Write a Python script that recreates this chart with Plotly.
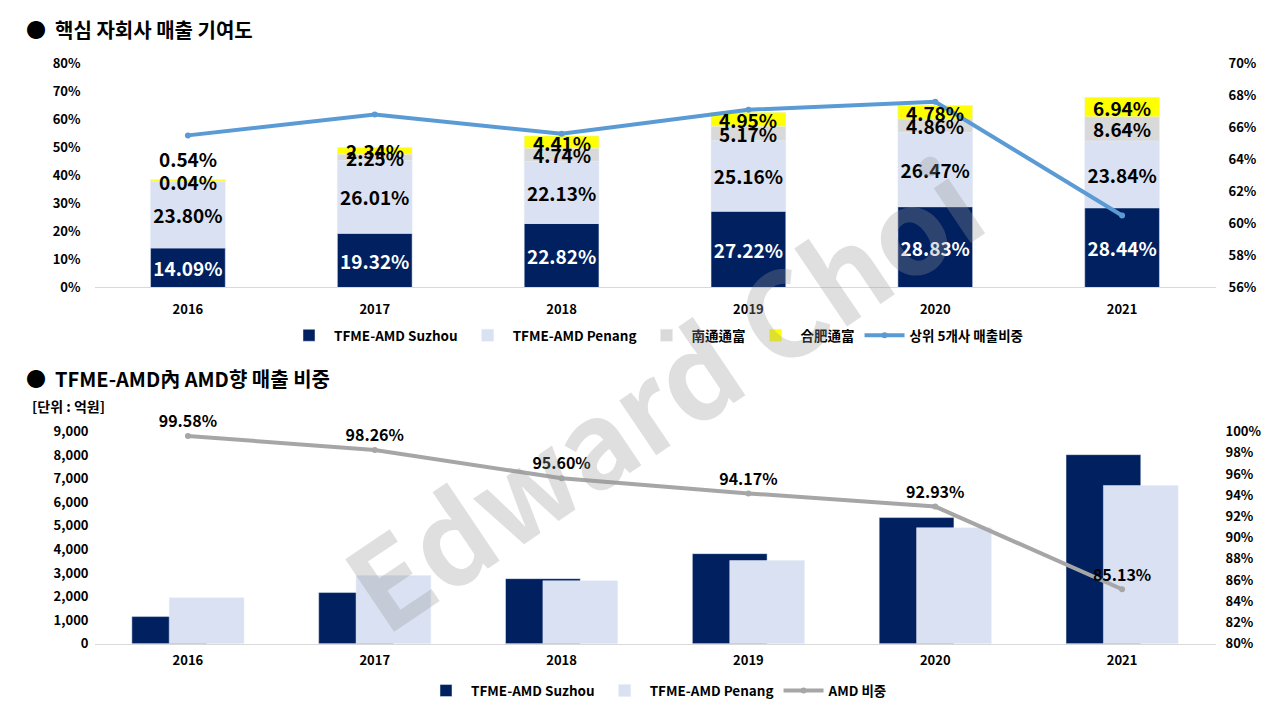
import plotly.graph_objects as go
from plotly.subplots import make_subplots

years = ['2016', '2017', '2018', '2019', '2020', '2021']

# 위: 핵심 자회사 매출 기여도 (%)
suzhou_pct = [14.09, 19.32, 22.82, 27.22, 28.83, 28.44]
penang_pct = [23.80, 26.01, 22.13, 25.16, 26.47, 23.84]
nantong_pct = [0.04, 2.25, 4.74, 5.17, 4.86, 8.64]
hefei_pct = [0.54, 2.34, 4.41, 4.95, 4.78, 6.94]
top5_share = [65.5, 66.8, 65.6, 67.1, 67.6, 60.5]

# 아래: TFME-AMD 매출 (억원) 과 AMD 비중
suzhou_sales = [1150, 2170, 2760, 3820, 5350, 8020]
penang_sales = [1950, 2890, 2670, 3530, 4920, 6710]
amd_share = [99.58, 98.26, 95.60, 94.17, 92.93, 85.13]

NAVY = '#002060'
LIGHT = '#D9E1F2'
GRAY = '#D9D9D9'
YELLOW = '#FFFF00'
BLUE = '#5B9BD5'
LGRAY = '#A6A6A6'
FONT = 'Noto Sans CJK KR'


# 화면 픽셀 -> paper 좌표 (렌더링 오프셋 보정)
def px(x):
    return (x - 8) / 1280


def py(y):
    return 1 - ((y - 17.7) / 0.973) / 720


fig = make_subplots(rows=2, cols=1, specs=[[{'secondary_y': True}], [{'secondary_y': True}]])

base_penang = suzhou_pct
base_nantong = [a + b for a, b in zip(suzhou_pct, penang_pct)]
base_hefei = [a + b for a, b in zip(base_nantong, nantong_pct)]

lbl = dict(family=FONT, size=19, weight='bold')
fig.add_trace(go.Bar(x=years, y=suzhou_pct, name='TFME-AMD Suzhou', marker_color=NAVY,
                     width=0.4, text=[f'{v:.2f}%' for v in suzhou_pct], textposition='inside',
                     insidetextanchor='middle', constraintext='none', textangle=0,
                     textfont=dict(lbl, color='white'), legend='legend'), row=1, col=1)
fig.add_trace(go.Bar(x=years, y=penang_pct, base=base_penang, name='TFME-AMD Penang',
                     marker_color=LIGHT, width=0.4, text=[f'{v:.2f}%' for v in penang_pct],
                     textposition='inside', insidetextanchor='middle', constraintext='none',
                     textangle=0, textfont=dict(lbl, color='black'), legend='legend'),
              row=1, col=1)
fig.add_trace(go.Bar(x=years, y=nantong_pct, base=base_nantong, name='南通通富',
                     marker_color=GRAY, width=0.4, legend='legend'), row=1, col=1)
fig.add_trace(go.Bar(x=years, y=hefei_pct, base=base_hefei, name='合肥通富',
                     marker_color=YELLOW, width=0.4, legend='legend'), row=1, col=1)
fig.add_trace(go.Scatter(x=years, y=top5_share, name='상위 5개사 매출비중', mode='lines+markers',
                         line=dict(color=BLUE, width=4), marker=dict(size=6, color=BLUE),
                         legend='legend'), row=1, col=1, secondary_y=True)

# small segment labels (x as category index)
for i, (b, v) in enumerate(zip(base_nantong, nantong_pct)):
    fig.add_annotation(x=i, y=b + v / 2, xref='x', yref='y', text=f'{v:.2f}%', showarrow=False,
                       font=dict(lbl, color='black'))
for i, (b, v) in enumerate(zip(base_hefei, hefei_pct)):
    fig.add_annotation(x=i, y=b + v / 2, xref='x', yref='y', text=f'{v:.2f}%', showarrow=False,
                       yshift=22 if v < 1 else 0, font=dict(lbl, color='black'))

fig.add_trace(go.Bar(x=years, y=suzhou_sales, name='TFME-AMD Suzhou', marker_color=NAVY,
                     width=0.4, offset=-0.3, legend='legend2'), row=2, col=1)
fig.add_trace(go.Bar(x=years, y=penang_sales, name='TFME-AMD Penang', marker_color=LIGHT,
                     width=0.4, offset=-0.1, legend='legend2'), row=2, col=1)
fig.add_trace(go.Scatter(x=years, y=amd_share, name='AMD 비중', mode='lines+markers+text',
                         line=dict(color=LGRAY, width=4), marker=dict(size=6, color=LGRAY),
                         text=[f'{v:.2f}%' for v in amd_share], textposition='top center',
                         cliponaxis=False,
                         textfont=dict(family=FONT, size=16, weight='bold', color='black'),
                         legend='legend2'), row=2, col=1, secondary_y=True)

tick = dict(family=FONT, size=13, weight='bold', color='black')
xdom = [px(94.5), px(1215.5)]
fig.update_layout(
    width=1280, height=720, barmode='overlay', plot_bgcolor='white', paper_bgcolor='white',
    margin=dict(l=0, r=0, t=0, b=0), font=dict(family=FONT, color='black'),
    xaxis=dict(domain=xdom, type='category', range=[-0.5, 5.5], showline=True, linecolor=GRAY,
               tickfont=tick, ticks='', ticklabelstandoff=10),
    xaxis2=dict(domain=xdom, type='category', range=[-0.5, 5.5], showline=True, linecolor=GRAY,
                tickfont=tick, ticks='', ticklabelstandoff=5),
    yaxis=dict(domain=[py(287), py(63)], range=[0, 80], dtick=10, ticksuffix='%',
               showgrid=False, zeroline=False, tickfont=tick, ticklabelstandoff=13),
    yaxis2=dict(range=[56, 70], dtick=2, ticksuffix='%', showgrid=False, zeroline=False,
                tickfont=tick, ticklabelstandoff=12),
    yaxis3=dict(domain=[py(643), py(431)], range=[0, 9000], dtick=1000,
                tickformat=',', showgrid=False, zeroline=False, tickfont=tick,
                ticklabelstandoff=5),
    yaxis4=dict(range=[80, 100], dtick=2, ticksuffix='%', showgrid=False, zeroline=False,
                tickfont=tick, ticklabelstandoff=9),
    legend=dict(orientation='h', x=px(656), xanchor='center', y=py(335), yanchor='middle',
                font=dict(family=FONT, size=13.5, weight='bold'), bgcolor='rgba(0,0,0,0)',
                itemwidth=40),
    legend2=dict(orientation='h', x=px(657), xanchor='center', y=py(690), yanchor='middle',
                 font=dict(family=FONT, size=13.5, weight='bold'), bgcolor='rgba(0,0,0,0)',
                 itemwidth=40),
)

fig.add_annotation(x=px(24), y=py(29), xref='paper', yref='paper', xanchor='left',
                   yanchor='middle', showarrow=False, text='●  핵심 자회사 매출 기여도',
                   font=dict(family=FONT, size=20, weight='bold'))
fig.add_annotation(x=px(24), y=py(378), xref='paper', yref='paper', xanchor='left',
                   yanchor='middle', showarrow=False, text='●  TFME-AMD內 AMD향 매출 비중',
                   font=dict(family=FONT, size=20, weight='bold'))
fig.add_annotation(x=px(30), y=py(405), xref='paper', yref='paper', xanchor='left',
                   yanchor='middle', showarrow=False, text='[단위 : 억원]',
                   font=dict(family=FONT, size=14, weight='bold'))
fig.add_annotation(x=px(660), y=py(390), xref='paper', yref='paper', showarrow=False,
                   text='Edward Choi', textangle=-34,
                   font=dict(family=FONT, size=118, weight='bold', color='rgba(150,150,150,0.3)'))

fig.write_html('out.html')
